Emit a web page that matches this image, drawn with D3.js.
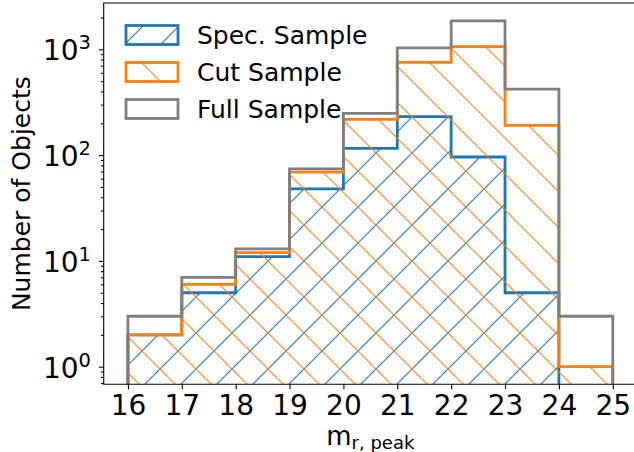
<!DOCTYPE html>
<html>
<head>
<meta charset="utf-8">
<script src="https://cdn.jsdelivr.net/npm/d3@7"></script>
<style>
  body { margin: 0; background: #fff; }
  svg { display: block; font-family: "DejaVu Sans", sans-serif; }
</style>
</head>
<body>
<script>
// histogram bins (left edges + last right edge) and counts per sample
const binEdges = [16, 17, 18, 19, 20, 21, 22, 23, 24, 25];
const specCounts = [2, 5, 11, 48, 116, 231, 96, 5, 0];
const cutCounts = [2, 6, 12, 69, 218, 754, 1058, 191, 1];
const fullCounts = [3, 7, 13, 74, 248, 1030, 1860, 420, 3];

const xTicks = [16, 17, 18, 19, 20, 21, 22, 23, 24, 25];
const yTicks = [1, 10, 100, 1000];
const yTickExp = ["0", "1", "2", "3"];
const legendLabels = ["Spec. Sample", "Cut Sample", "Full Sample"];

const W = 634, H = 452;
// plot area edges, in page pixels
const pLeft = 103.7, pRight = 637, pTop = 3, pBottom = 384.3;

const svg = d3.select("body").append("svg")
  .attr("width", W).attr("height", H);

// scales (absolute pixel ranges so hatch patterns line up with the page)
const x = d3.scaleLinear().domain([15.55, 25.45]).range([pLeft, pRight]);
const y = d3.scaleLog().domain([0.682, 2740]).range([pBottom, pTop]);

const defs = svg.append("defs");
defs.append("clipPath").attr("id", "plotclip")
  .append("rect").attr("x", pLeft).attr("y", pTop)
  .attr("width", pRight - pLeft).attr("height", pBottom - pTop);

// hatch patterns: '/' blue, '\' orange, 36px spacing
const blue = "#1f77b4", orange = "#ff7f0e", gray = "#7f7f7f";
const pBlue = defs.append("pattern").attr("id", "hatchBlue")
  .attr("patternUnits", "userSpaceOnUse")
  .attr("x", 25).attr("y", 0).attr("width", 36).attr("height", 36);
pBlue.append("path").attr("d", "M0,36 L36,0 M-9,9 L9,-9 M27,45 L45,27")
  .attr("stroke", blue).attr("stroke-width", 1.1).attr("fill", "none");
const pOrange = defs.append("pattern").attr("id", "hatchOrange")
  .attr("patternUnits", "userSpaceOnUse")
  .attr("x", 7).attr("y", 0).attr("width", 36).attr("height", 36);
pOrange.append("path").attr("d", "M0,0 L36,36 M-9,27 L9,45 M27,-9 L45,9")
  .attr("stroke", orange).attr("stroke-width", 1.1).attr("fill", "none");

// step outline for a histogram
function stepPoints(counts) {
  const floor = 0.1;
  let pts = [[binEdges[0], floor]];
  counts.forEach((c, i) => {
    const v = c > 0 ? c : floor;
    pts.push([binEdges[i], v]);
    pts.push([binEdges[i + 1], v]);
  });
  pts.push([binEdges[binEdges.length - 1], floor]);
  return pts;
}
const line = d3.line().x(d => x(d[0])).y(d => y(d[1]));

const plot = svg.append("g").attr("clip-path", "url(#plotclip)");
const series = [
  { counts: specCounts, color: blue, fill: "url(#hatchBlue)" },
  { counts: cutCounts, color: orange, fill: "url(#hatchOrange)" },
  { counts: fullCounts, color: gray, fill: "none" }
];
series.forEach(s => {
  const pts = stepPoints(s.counts);
  plot.append("path").attr("d", line(pts) + "Z")
    .attr("fill", s.fill).attr("stroke", "none");
  plot.append("path").attr("d", line(pts))
    .attr("fill", "none").attr("stroke", s.color)
    .attr("stroke-width", 2.8).attr("stroke-linejoin", "miter");
});

// axes
const xAxis = svg.append("g").attr("transform", "translate(0," + pBottom + ")")
  .call(d3.axisBottom(x).tickValues(xTicks).tickSize(4.9).tickPadding(6));
xAxis.select(".domain").remove();
xAxis.selectAll("text").attr("font-size", 28).attr("fill", "#000")
  .attr("font-family", "DejaVu Sans").attr("dy", "0.71em");

const minors = [];
for (let e = -1; e <= 3; e++) for (let m = 2; m <= 9; m++) {
  const v = m * Math.pow(10, e);
  if (v > 0.682 && v < 2740) minors.push(v);
}
const yMinor = svg.append("g").attr("transform", "translate(" + pLeft + ",0)")
  .call(d3.axisLeft(y).tickValues(minors).tickSize(2.8).tickFormat(""));
yMinor.select(".domain").remove();
const yAxis = svg.append("g").attr("transform", "translate(" + pLeft + ",0)")
  .call(d3.axisLeft(y).tickValues(yTicks).tickSize(4.9).tickFormat(""));
yAxis.select(".domain").remove();
svg.selectAll(".tick line").attr("stroke", "#000").attr("stroke-width", 1.1);

const yLab = svg.append("g").selectAll("text").data(yTicks).join("text")
  .attr("x", 91).attr("y", d => y(d) + 11)
  .attr("text-anchor", "end").attr("font-size", 28);
yLab.append("tspan").text("10");
yLab.append("tspan").attr("dy", -11).attr("font-size", 19.5)
  .text((d, i) => yTickExp[i]);

// spines
svg.append("path")
  .attr("d", `M${pRight},${pTop}H${pLeft}V${pBottom}H${pRight}`)
  .attr("fill", "none").attr("stroke", "#000").attr("stroke-width", 1.1);

// axis labels
svg.append("text").attr("transform", "translate(30," + ((pTop + pBottom) / 2) + ") rotate(-90)")
  .attr("text-anchor", "middle").attr("font-size", 25).text("Number of Objects");
const xl = svg.append("text").attr("x", (pLeft + pRight) / 2).attr("y", 445)
  .attr("text-anchor", "middle").attr("font-size", 26);
xl.append("tspan").text("m");
xl.append("tspan").attr("dy", 4).attr("font-size", 18).text("r, peak");

// legend
const leg = svg.append("g");
series.forEach((s, i) => {
  const cy = 35 + i * 37;
  leg.append("rect").attr("x", 126).attr("y", cy - 9.5).attr("width", 52).attr("height", 19)
    .attr("fill", s.fill).attr("stroke", s.color).attr("stroke-width", 2.8);
  leg.append("text").attr("x", 197).attr("y", cy + 9.3)
    .attr("font-size", 25).text(legendLabels[i]);
});
</script>
</body>
</html>
